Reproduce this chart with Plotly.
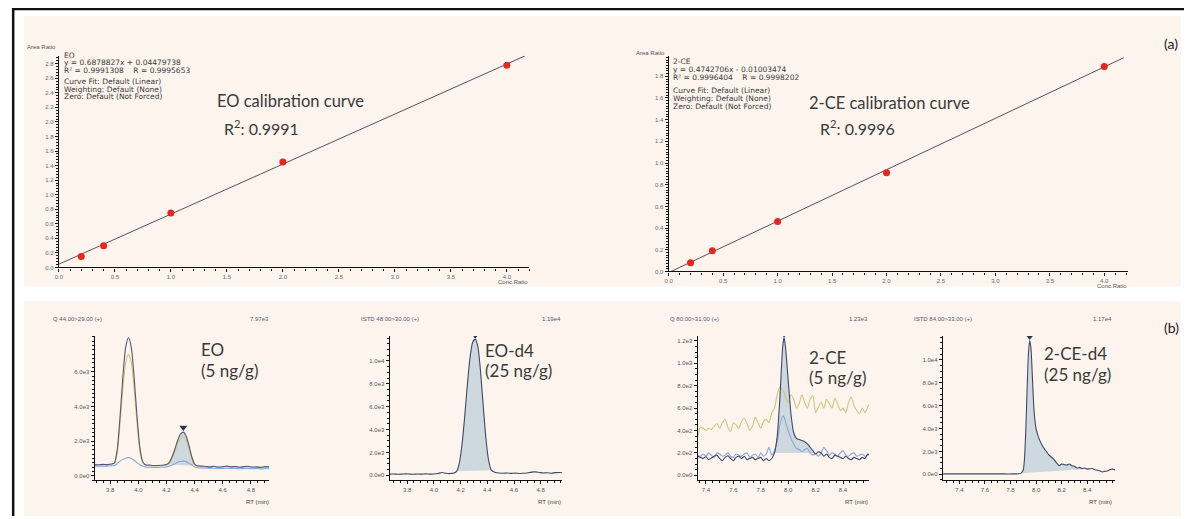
import plotly.graph_objects as go

# reference canvas is 1192x519; the page body adds an 8px margin, so the figure is 8px smaller
OFF = 8
W, H = 1192 - OFF, 519 - OFF

# ---------------- data ----------------
eo_conc = [0.2, 0.4, 1.0, 2.0, 4.0]
eo_ratio = [0.15, 0.30, 0.75, 1.45, 2.78]
eo_fit_x = [0.0, 4.16]
eo_fit_y = [0.045, 2.906]

ce_conc = [0.2, 0.4, 1.0, 2.0, 4.0]
ce_ratio = [0.08, 0.19, 0.46, 0.91, 1.89]
ce_fit_x = [0.021, 4.18]
ce_fit_y = [0.0, 1.972]

eo_info = ["EO", "y = 0.6878827x + 0.04479738", "R\u00b2 = 0.9991308    R = 0.9995653",
           "Curve Fit: Default (Linear)", "Weighting: Default (None)", "Zero: Default (Not Forced)"]
ce_info = ["2-CE", "y = 0.4742706x - 0.01003474", "R\u00b2 = 0.9996404    R = 0.9998202",
           "Curve Fit: Default (Linear)", "Weighting: Default (None)", "Zero: Default (Not Forced)"]

# chromatogram 1: EO (5 ng/g)
b1_rt = [3.69, 3.72, 3.75, 3.78, 3.81, 3.83, 3.85, 3.87, 3.89, 3.91, 3.93, 3.95, 3.97, 3.99, 4.01, 4.03, 4.05,
         4.08, 4.11, 4.14, 4.17, 4.20, 4.22, 4.24, 4.26, 4.28, 4.30, 4.32, 4.34, 4.36, 4.38, 4.40, 4.42,
         4.45, 4.48, 4.51, 4.54, 4.57, 4.60, 4.63, 4.66, 4.69, 4.72, 4.75, 4.78, 4.81, 4.84, 4.87, 4.90, 4.93]
b1_quant = [650, 640, 660, 650, 680, 750, 1500, 3400, 5700, 7400, 7950, 7400, 5700, 3500, 1700, 850, 640,
            620, 600, 600, 610, 650, 780, 1100, 1550, 2050, 2400, 2520, 2300, 1750, 1100, 680, 580,
            560, 540, 520, 550, 510, 530, 560, 520, 540, 500, 530, 550, 510, 520, 490, 530, 520]
b1_qual = [640, 630, 650, 640, 670, 720, 1300, 3000, 5000, 6500, 7000, 6550, 5000, 3100, 1500, 780, 620,
           600, 590, 590, 600, 630, 740, 1000, 1400, 1850, 2150, 2250, 2050, 1550, 1000, 650, 560,
           540, 520, 500, 530, 490, 510, 540, 500, 520, 480, 510, 530, 490, 500, 470, 510, 500]
b1_ion3 = [560, 550, 560, 560, 580, 600, 700, 850, 950, 1020, 1050, 1000, 900, 760, 640, 560, 520,
           500, 490, 490, 500, 520, 560, 620, 700, 780, 830, 850, 820, 730, 620, 520, 470,
           450, 440, 430, 440, 420, 430, 440, 420, 430, 410, 420, 430, 410, 420, 400, 420, 410]
b1_peak = [4.32, 2780]

# chromatogram 2: EO-d4 (25 ng/g)
b2_rt = [3.67, 3.70, 3.73, 3.76, 3.79, 3.82, 3.85, 3.88, 3.91, 3.94, 3.97, 4.00, 4.03, 4.06, 4.09, 4.12, 4.15,
         4.17, 4.19, 4.21, 4.23, 4.25, 4.27, 4.29, 4.31, 4.33, 4.35, 4.37, 4.39, 4.41, 4.43,
         4.46, 4.49, 4.52, 4.55, 4.58, 4.61, 4.64, 4.67, 4.70, 4.73, 4.76, 4.79, 4.82, 4.85, 4.88, 4.91, 4.94, 4.96]
b2_int = [100, 110, 90, 100, 120, 100, 90, 110, 100, 120, 100, 110, 150, 250, 180, 150, 200,
          350, 1000, 2600, 5000, 7800, 10200, 11600, 11900, 11200, 9000, 6000, 3200, 1300, 450,
          250, 200, 180, 200, 170, 190, 160, 180, 200, 280, 300, 250, 200, 220, 180, 230, 250, 220]
b2_peak = [4.31, 12250]

# chromatogram 3: 2-CE (5 ng/g)
b3_rt = [7.34, 7.36, 7.38, 7.40, 7.42, 7.44, 7.46, 7.48, 7.50, 7.52, 7.54, 7.56, 7.58, 7.60, 7.62, 7.64,
         7.66, 7.68, 7.70, 7.72, 7.74, 7.76, 7.78, 7.80, 7.82, 7.84, 7.86, 7.88, 7.90, 7.92, 7.94, 7.96, 7.97,
         7.98, 8.00, 8.02, 8.04, 8.06, 8.08, 8.10, 8.12, 8.14, 8.16, 8.18, 8.20, 8.22, 8.24, 8.26, 8.28,
         8.30, 8.32, 8.34, 8.36, 8.38, 8.40, 8.42, 8.44, 8.46, 8.48, 8.50, 8.52, 8.54, 8.56, 8.58, 8.59]
b3_qual = [340, 430, 420, 400, 420, 410, 440, 460, 420, 470, 500, 430, 390, 470, 450, 420,
           480, 510, 460, 400, 440, 520, 470, 420, 480, 500, 470, 560, 600, 720, 790, 760, 740,
           700, 650, 720, 680, 600, 640, 720, 650, 600, 680, 710, 560, 610, 650, 600, 680,
           640, 600, 690, 640, 580, 600, 560, 650, 700, 620, 580, 550, 600, 560, 610, 630]
b3_quant = [170, 160, 150, 165, 140, 155, 170, 180, 150, 130, 160, 175, 150, 130, 160, 170,
            150, 170, 140, 150, 160, 140, 150, 160, 130, 150, 130, 150, 200, 350, 700, 1150, 1230,
            1150, 850, 550, 380, 330, 320, 310, 300, 280, 250, 220, 190, 210, 200, 170, 190,
            160, 150, 180, 170, 160, 150, 170, 150, 140, 160, 150, 140, 160, 150, 190, 180]
b3_ion3 = [180, 170, 190, 170, 200, 180, 160, 200, 190, 170, 180, 200, 170, 160, 190, 180,
           170, 190, 200, 160, 180, 190, 160, 200, 170, 190, 250, 180, 220, 300, 450, 530, 520,
           480, 400, 330, 280, 240, 230, 210, 230, 240, 200, 180, 190, 170, 200, 250, 220,
           180, 200, 190, 170, 200, 220, 180, 170, 190, 200, 170, 180, 190, 170, 180, 190]
b3_peak = [7.97, 1262]

# chromatogram 4: 2-CE-d4 (25 ng/g)
b4_rt = [7.27, 7.35, 7.45, 7.55, 7.65, 7.75, 7.82, 7.86, 7.88,
         7.90, 7.91, 7.92, 7.93, 7.94, 7.95, 7.96, 7.97, 7.98, 7.99, 8.00,
         8.02, 8.04, 8.06, 8.08, 8.10, 8.12, 8.14, 8.16, 8.18, 8.20, 8.22, 8.24, 8.26, 8.28, 8.30,
         8.32, 8.34, 8.36, 8.38, 8.40, 8.42, 8.44, 8.46, 8.48, 8.50, 8.52, 8.54, 8.56, 8.58, 8.60, 8.62]
b4_int = [30, 30, 30, 30, 30, 30, 30, 40, 80,
          400, 1500, 4000, 7500, 10500, 11700, 11000, 8800, 6300, 4800, 4000,
          3200, 2700, 2300, 2000, 1700, 1500, 1300, 1000, 750, 900, 850, 800, 900, 750, 700,
          550, 600, 500, 550, 450, 480, 500, 400, 350, 280, 200, 250, 300, 420, 450, 380]
b4_peak = [7.95, 12050]

chrom_titles = ["Q 44.00>29.00 (+)", "ISTD 48.00>30.00 (+)", "Q 80.00>31.00 (+)", "ISTD 84.00>33.00 (+)"]
chrom_max = ["7.97e3", "1.19e4", "1.23e3", "1.17e4"]
chrom_names = [["EO", "(5 ng/g)"], ["EO-d4", "(25 ng/g)"], ["2-CE", "(5 ng/g)"], ["2-CE-d4", "(25 ng/g)"]]

ticks_eo_x = [3.8, 4.0, 4.2, 4.4, 4.6, 4.8]
ticks_ce_x = [7.4, 7.6, 7.8, 8.0, 8.2, 8.4]
ticks_e3 = [0, 2000, 4000, 6000]
ticks_e3_text = ["0.0e0", "2.0e3", "4.0e3", "6.0e3"]
ticks_e4 = [0, 2000, 4000, 6000, 8000, 10000]
ticks_e4_text = ["0.0e0", "2.0e3", "4.0e3", "6.0e3", "8.0e3", "1.0e4"]
ticks_e2 = [0, 200, 400, 600, 800, 1000, 1200]
ticks_e2_text = ["0.0e0", "2.0e2", "4.0e2", "6.0e2", "8.0e2", "1.0e3", "1.2e3"]

# ---------------- styling helpers ----------------
def fx(p):
    return min(max((p - OFF) / W, 0.0), 1.0)

def fy(p):
    return min(max(1 - (p - OFF) / H, 0.0), 1.0)

CREAM = "#fcf4ed"
DARK = "#3f4868"
YEL = "#cdc582"
LBLUE = "#86a8d8"
FILL = "rgba(165,195,212,0.55)"
SMALL_FONT = "Liberation Sans Narrow, Arial Narrow, Liberation Sans, sans-serif"
INFO_FONT = "DejaVu Sans, Verdana, sans-serif"
BIG_FONT = "Lato, Open Sans, sans-serif"

fig = go.Figure()

# calibration curves
fig.add_trace(go.Scatter(x=eo_fit_x, y=eo_fit_y, mode="lines", line=dict(color="#555555", width=1),
                         xaxis="x", yaxis="y", showlegend=False, hoverinfo="skip"))
fig.add_trace(go.Scatter(x=eo_conc, y=eo_ratio, mode="markers", marker=dict(color="#e8261e", size=7),
                         xaxis="x", yaxis="y", showlegend=False))
fig.add_trace(go.Scatter(x=ce_fit_x, y=ce_fit_y, mode="lines", line=dict(color="#555555", width=1),
                         xaxis="x2", yaxis="y2", showlegend=False, hoverinfo="skip"))
fig.add_trace(go.Scatter(x=ce_conc, y=ce_ratio, mode="markers", marker=dict(color="#e8261e", size=7),
                         xaxis="x2", yaxis="y2", showlegend=False))


def add_fill(xs, ys, i0, i1, xa, ya):
    fig.add_trace(go.Scatter(x=xs[i0:i1 + 1], y=ys[i0:i1 + 1], mode="lines", fill="toself",
                             fillcolor=FILL, line=dict(width=0), xaxis=xa, yaxis=ya,
                             showlegend=False, hoverinfo="skip"))


def add_line(xs, ys, color, xa, ya, width=1.1):
    fig.add_trace(go.Scatter(x=xs, y=ys, mode="lines", line=dict(color=color, width=width, shape="spline",
                                                                 smoothing=0.6),
                             xaxis=xa, yaxis=ya, showlegend=False))


def add_peak(pk, xa, ya):
    fig.add_trace(go.Scatter(x=[pk[0]], y=[pk[1]], mode="markers",
                             marker=dict(symbol="triangle-down", size=7, color="#2b335a"),
                             xaxis=xa, yaxis=ya, showlegend=False))


# chromatogram 1
add_fill(b1_rt, b1_quant, 21, 32, "x3", "y3")
add_line(b1_rt, b1_qual, YEL, "x3", "y3")
add_line(b1_rt, b1_ion3, LBLUE, "x3", "y3")
add_line(b1_rt, b1_quant, "#55596a", "x3", "y3")
add_peak(b1_peak, "x3", "y3")
# chromatogram 2
add_fill(b2_rt, b2_int, 17, 30, "x4", "y4")
add_line(b2_rt, b2_int, DARK, "x4", "y4")
add_peak(b2_peak, "x4", "y4")
# chromatogram 3
add_fill(b3_rt, b3_quant, 28, 46, "x5", "y5")
add_line(b3_rt, b3_qual, YEL, "x5", "y5")
add_line(b3_rt, b3_ion3, LBLUE, "x5", "y5")
add_line(b3_rt, b3_quant, DARK, "x5", "y5")
add_peak(b3_peak, "x5", "y5")
# chromatogram 4
add_fill(b4_rt, b4_int, 8, 39, "x6", "y6")
add_line(b4_rt, b4_int, DARK, "x6", "y6")
add_peak(b4_peak, "x6", "y6")


def axis(domain_px, rng, anchor, is_y, tickfont, **kw):
    if is_y:
        dom = [fy(domain_px[0]), fy(domain_px[1])]
    else:
        dom = [fx(domain_px[0]), fx(domain_px[1])]
    d = dict(domain=dom, range=rng, anchor=anchor, showline=True, linecolor="#111111", linewidth=1.3,
             ticks="outside", ticklen=3, tickwidth=1, tickcolor="#111111", showgrid=False, zeroline=False,
             tickfont=tickfont, fixedrange=True)
    d.update(kw)
    return d


cal_font = dict(size=6, color="#6a6a6a", family="Liberation Sans, Arial, sans-serif")
chr_font = dict(size=6, color="#555555", family=SMALL_FONT)

layout_axes = {}
layout_axes["xaxis"] = axis([55, 527], [0, 4.2], "y", False, cal_font, tickmode="linear", tick0=0, dtick=0.5,
                            tickformat=".1f",
                            minor=dict(ticks="outside", ticklen=2, tickcolor="#111111", tick0=0, dtick=0.1))
layout_axes["yaxis"] = axis([269, 56], [0, 2.91], "x", True, cal_font, tickmode="linear", tick0=0, dtick=0.2,
                            tickformat=".1f",
                            minor=dict(ticks="outside", ticklen=2, tickcolor="#111111", tick0=0, dtick=0.04))
layout_axes["xaxis2"] = axis([667, 1128], [0, 4.22], "y2", False, cal_font, tickmode="linear", tick0=0, dtick=0.5,
                             tickformat=".1f",
                             minor=dict(ticks="outside", ticklen=2, tickcolor="#111111", tick0=0, dtick=0.1))
layout_axes["yaxis2"] = axis([273, 56], [0, 1.99], "x2", True, cal_font, tickmode="linear", tick0=0, dtick=0.2,
                             tickformat=".1f",
                             minor=dict(ticks="outside", ticklen=2, tickcolor="#111111", tick0=0, dtick=0.025))

chrom_specs = [
    ([91, 266], [3.69, 4.93], [-250, 8050], ticks_eo_x, ticks_e3, ticks_e3_text, 250),
    ([387, 560], [3.67, 4.96], [-430, 12170], ticks_eo_x, ticks_e4, ticks_e4_text, 500),
    ([696, 868], [7.34, 8.59], [-44, 1244], ticks_ce_x, ticks_e2, ticks_e2_text, 50),
    ([942, 1115], [7.27, 8.62], [-520, 12090], ticks_ce_x, ticks_e4, ticks_e4_text, 500),
]
for i, (xpx, xr, yr, xt, yt, ytt, ymin) in enumerate(chrom_specs):
    n = i + 3
    layout_axes["xaxis%d" % n] = axis(xpx, xr, "y%d" % n, False, chr_font, tickmode="array", tickvals=xt,
                                      ticktext=["%.1f" % v for v in xt],
                                      minor=dict(ticks="outside", ticklen=2, tickcolor="#111111",
                                                 tickmode="linear", tick0=0, dtick=0.05))
    layout_axes["yaxis%d" % n] = axis([483, 338], yr, "x%d" % n, True, chr_font, tickmode="array", tickvals=yt,
                                      ticktext=ytt,
                                      minor=dict(ticks="outside", ticklen=2, tickcolor="#111111",
                                                 tickmode="linear", tick0=0, dtick=ymin))

# ---------------- annotations ----------------
ann = []


def txt(s, x, y, size, color="#333333", family=INFO_FONT, xanchor="left", yanchor="middle"):
    ann.append(dict(text=s, x=fx(x), y=fy(y), xref="paper", yref="paper", showarrow=False,
                    xanchor=xanchor, yanchor=yanchor, borderpad=0,
                    font=dict(size=size, color=color, family=family)))


txt("Area Ratio", 22, 47, 6, "#555555", "Liberation Sans, Arial, sans-serif")
txt("Area Ratio", 633, 53, 6, "#555555", "Liberation Sans, Arial, sans-serif")
txt("Conc.Ratio", 527, 284, 6, "#555555", "Liberation Sans, Arial, sans-serif", xanchor="right")
txt("Conc.Ratio", 1128, 288, 6, "#555555", "Liberation Sans, Arial, sans-serif", xanchor="right")

for s, yy in zip(eo_info, [55.5, 63, 70.5, 82, 89.5, 97]):
    txt(s, 59, yy, 7.5, "#3a3a3a")
for s, yy in zip(ce_info, [62, 70, 78, 91, 99, 107]):
    txt(s, 670, yy, 7.5, "#3a3a3a")

txt("EO calibration curve", 213, 102, 16.5, "#3a3a3a", BIG_FONT)
txt("R<sup>2</sup>: 0.9991", 220, 128, 16, "#3a3a3a", BIG_FONT)
txt("2-CE calibration curve", 807, 104, 16.5, "#3a3a3a", BIG_FONT)
txt("R<sup>2</sup>: 0.9996", 818, 128, 16, "#3a3a3a", BIG_FONT)

txt("(a)", 1171, 44, 14, "#222222", BIG_FONT, xanchor="center")
txt("(b)", 1171, 329, 14, "#222222", BIG_FONT, xanchor="center")

title_left = [48, 357, 667, 912]
max_right = [267, 560, 868, 1113]
name_left = [197, 482, 807, 1042]
name_y = [[352, 373], [353, 373], [360, 380], [356, 377]]
for i in range(4):
    txt(chrom_titles[i], title_left[i], 321, 6, "#555577", SMALL_FONT)
    txt(chrom_max[i], max_right[i], 321, 6, "#555577", SMALL_FONT, xanchor="right")
    txt("RT (min)", max_right[i], 505, 6, "#444444", SMALL_FONT, xanchor="right")
    txt(chrom_names[i][0], name_left[i], name_y[i][0], 17, "#3a3a3a", BIG_FONT)
    txt(chrom_names[i][1], name_left[i], name_y[i][1], 17, "#3a3a3a", BIG_FONT)

# ---------------- shapes ----------------
shapes = [
    dict(type="rect", xref="paper", yref="paper", x0=fx(20), x1=fx(1181), y0=fy(288), y1=fy(16),
         fillcolor=CREAM, line=dict(width=0), layer="below"),
    dict(type="rect", xref="paper", yref="paper", x0=fx(20), x1=fx(1181), y0=0, y1=fy(303),
         fillcolor=CREAM, line=dict(width=0), layer="below"),
    dict(type="line", xref="paper", yref="paper", x0=0, x1=1, y0=0.998, y1=0.998,
         line=dict(color="#111111", width=2.5)),
    dict(type="line", xref="paper", yref="paper", x0=0.001, x1=0.001, y0=1, y1=0,
         line=dict(color="#111111", width=2.5)),
]

fig.update_layout(
    width=W, height=H, margin=dict(l=0, r=0, t=0, b=0),
    paper_bgcolor="white", plot_bgcolor="rgba(0,0,0,0)",
    showlegend=False, annotations=ann, shapes=shapes, **layout_axes
)

fig.write_html("out.html")
